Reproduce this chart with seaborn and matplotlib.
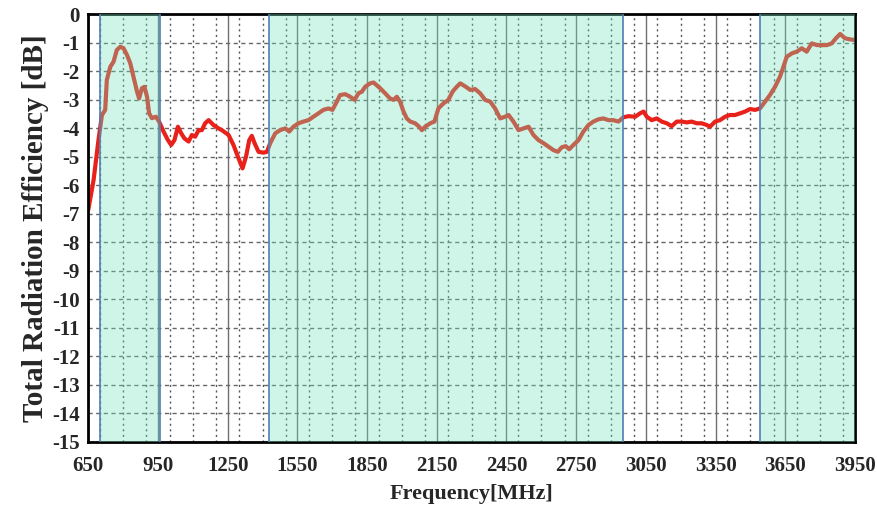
import matplotlib
matplotlib.use("Agg")
import matplotlib.pyplot as plt
from matplotlib.ticker import MultipleLocator
import seaborn as sns
import pandas as pd

freq = [650, 673, 694, 709, 723, 730, 745, 759, 773, 788, 802, 817, 831, 845,
        860, 869, 881, 892, 903, 912, 924, 941, 955, 974, 993, 1007, 1021, 1036,
        1050, 1064, 1082, 1096, 1110, 1125, 1139, 1153, 1168, 1189, 1211, 1225,
        1254, 1275, 1297, 1314, 1329, 1343, 1354, 1366, 1383, 1404, 1419, 1433,
        1455, 1476, 1498, 1515, 1533, 1555, 1576, 1598, 1619, 1641, 1662, 1684,
        1701, 1720, 1734, 1756, 1777, 1796, 1813, 1828, 1842, 1863, 1878, 1906,
        1928, 1949, 1964, 1978, 1992, 2007, 2021, 2036, 2057, 2074, 2086, 2100,
        2122, 2140, 2157, 2179, 2200, 2218, 2236, 2251, 2275, 2294, 2315, 2337,
        2358, 2380, 2401, 2423, 2444, 2459, 2480, 2502, 2523, 2545, 2566, 2588,
        2610, 2631, 2652, 2671, 2688, 2705, 2720, 2738, 2760, 2781, 2803, 2824,
        2846, 2867, 2889, 2910, 2932, 2953, 2975, 3004, 3025, 3040, 3054, 3075,
        3097, 3118, 3140, 3161, 3183, 3204, 3226, 3247, 3269, 3290, 3312, 3326,
        3348, 3369, 3391, 3412, 3434, 3455, 3477, 3498, 3520, 3541, 3563, 3584,
        3606, 3627, 3642, 3656, 3678, 3699, 3721, 3742, 3764, 3786, 3807, 3829,
        3850, 3868, 3886, 3907, 3929, 3950]
eff = [-6.87, -5.82, -4.42, -3.54, -3.36, -2.31, -1.85, -1.67, -1.26, -1.15, -1.20,
       -1.44, -1.73, -2.20, -2.72, -2.96, -2.60, -2.55, -2.90, -3.48, -3.65, -3.60,
       -3.77, -4.12, -4.42, -4.59, -4.42, -3.95, -4.18, -4.36, -4.47, -4.24, -4.30,
       -4.07, -4.07, -3.83, -3.72, -3.89, -4.01, -4.07, -4.24, -4.59, -5.06, -5.41,
       -5.00, -4.42, -4.27, -4.53, -4.83, -4.86, -4.83, -4.53, -4.18, -4.07, -4.01,
       -4.12, -3.95, -3.83, -3.77, -3.72, -3.60, -3.48, -3.36, -3.31, -3.36, -3.07,
       -2.84, -2.81, -2.90, -3.01, -2.78, -2.72, -2.55, -2.43, -2.40, -2.60, -2.78,
       -2.96, -3.01, -2.90, -3.07, -3.42, -3.66, -3.77, -3.83, -3.95, -4.07, -3.95,
       -3.83, -3.77, -3.31, -3.13, -3.01, -2.72, -2.55, -2.43, -2.55, -2.66, -2.63,
       -2.78, -3.01, -3.07, -3.31, -3.66, -3.60, -3.54, -3.77, -4.07, -4.01, -3.95,
       -4.24, -4.42, -4.53, -4.65, -4.77, -4.83, -4.67, -4.63, -4.74, -4.59, -4.42,
       -4.12, -3.89, -3.77, -3.69, -3.66, -3.72, -3.72, -3.77, -3.62, -3.58, -3.60,
       -3.48, -3.42, -3.60, -3.72, -3.66, -3.77, -3.83, -3.93, -3.77, -3.77, -3.80,
       -3.77, -3.83, -3.83, -3.89, -3.95, -3.77, -3.72, -3.60, -3.54, -3.54, -3.48,
       -3.42, -3.33, -3.36, -3.31, -3.07, -2.84, -2.55, -2.20, -1.85, -1.50, -1.38,
       -1.32, -1.20, -1.32, -1.03, -1.09, -1.09, -1.09, -1.03, -0.85, -0.70, -0.85,
       -0.89, -0.91]

# shaded frequency bands (MHz)
band_lo = [700, 1427, 3540]
band_hi = [960, 2950, 3950]

xticks = list(range(650, 3951, 300))
yticks = list(range(0, -16, -1))

df = pd.DataFrame({"Frequency": freq, "Efficiency": eff})

sns.set_style("white")
plt.rcParams["font.family"] = ["Liberation Serif", "DejaVu Serif"]
plt.rcParams["font.weight"] = "bold"
plt.rcParams["axes.unicode_minus"] = False

fig = plt.figure(figsize=(8.78, 5.08), dpi=100)
ax = fig.add_axes([0.1005, 0.130, 0.8733, 0.8424])

sns.lineplot(data=df, x="Frequency", y="Efficiency", ax=ax,
             color="#e8221b", linewidth=3.0, zorder=2)

# bands drawn on top, semi transparent (line looks lighter inside)
for lo, hi in zip(band_lo, band_hi):
    ax.axvspan(lo, hi, facecolor="#72e4ba", alpha=0.34, linewidth=0, zorder=3)
    ax.axvline(lo, color="#4f7fb5", linewidth=1.2, zorder=3.5)
    if hi < 3950:
        ax.axvline(hi, color="#4f7fb5", linewidth=1.2, zorder=3.5)

ax.set_xlim(650, 3950)
ax.set_ylim(-15, 0)
ax.set_xticks(xticks)
ax.set_yticks(yticks)
ax.xaxis.set_minor_locator(MultipleLocator(100))

ax.grid(which="major", axis="x", color="#6f6f6f", linestyle="-", linewidth=1.0)
ax.grid(which="minor", axis="x", color="#555555", linestyle=(0, (1.5, 2.5)), linewidth=1.0)
ax.grid(which="major", axis="y", color="#666666", linestyle=(0, (3, 2.5)), linewidth=1.0)
ax.set_axisbelow(True)

for s in ax.spines.values():
    s.set_color("black")
    s.set_linewidth(2.0)

ax.tick_params(axis="x", which="major", direction="out", length=4, width=1,
               color="#555555", labelsize=15, pad=6)
ax.tick_params(axis="x", which="minor", length=0)
ax.tick_params(axis="y", which="major", length=0, labelsize=15, pad=6)
for lab in ax.get_xticklabels() + ax.get_yticklabels():
    lab.set_fontweight("bold")

ax.set_xlabel("Frequency[MHz]", fontsize=16, fontweight="bold", labelpad=6)
ax.set_ylabel("Total Radiation Efficiency [dB]", fontsize=21, fontweight="bold", labelpad=2)

fig.savefig("out.png", dpi=100)
